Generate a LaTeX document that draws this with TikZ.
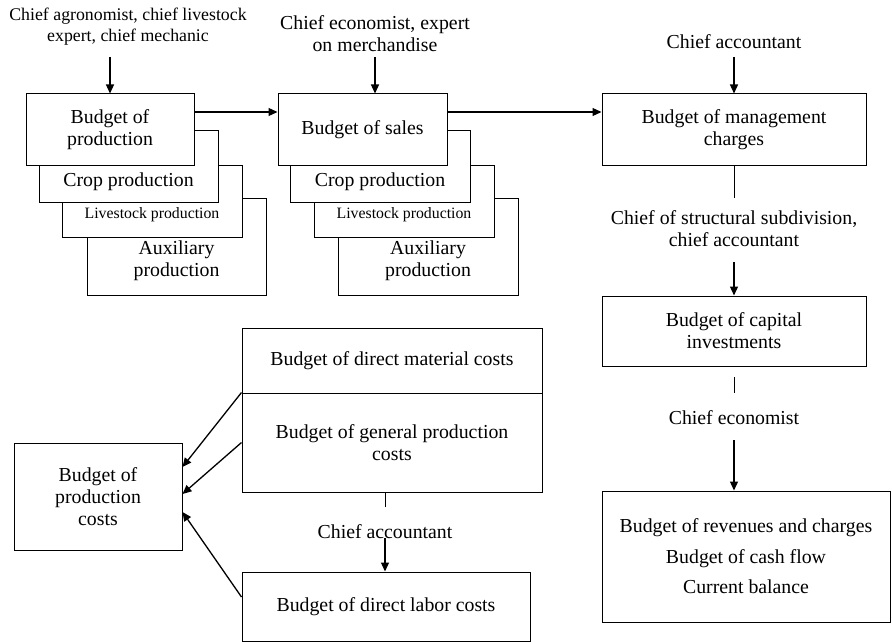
\documentclass[tikz,border=0pt]{standalone}
\usepackage{fontspec}
\setmainfont{Liberation Serif}
\usetikzlibrary{positioning}
\usetikzlibrary{arrows.meta}
\tikzstyle{bbox} = [draw=black, fill=white, line width=1pt, inner sep=0pt, align=center]
\tikzstyle{txt} = [align=center, inner sep=0pt]
\tikzstyle{arrow} = [line width=1.3pt,-{Triangle[length=9pt,width=8pt]}]
\tikzstyle{link} = [line width=1pt]
\def\small(#1){{\fontsize{15.8}{18}\selectfont #1}}

\begin{document}
\begin{tikzpicture}[x=1pt,y=-1pt,font=\fontsize{19.8}{22}\selectfont]
    \useasboundingbox (0,0) rectangle (892,642);
    % production stack
    \node[bbox,minimum width=179pt,minimum height=97pt] (aux1) at (176.5,246.5) {};
    \node[bbox,minimum width=180pt,minimum height=72pt] (live1) at (152,201) {};
    \node[bbox,minimum width=179pt,minimum height=72pt] (crop1) at (128.5,166) {};
    \node[bbox,minimum width=168pt,minimum height=71pt] (prod) at (110,129.5) {Budget of\\production};
    \node[txt] (aux1t) at (176.5,261) {Auxiliary\\production};
    \node[txt] (live1t) at (152,215) {\small(Livestock production)};
    \node[txt] (crop1t) at (128.5,182) {Crop production};
    % sales stack
    \node[bbox,minimum width=180pt,minimum height=97pt] (aux2) at (428,246.5) {};
    \node[bbox,minimum width=180pt,minimum height=72pt] (live2) at (404,201) {};
    \node[bbox,minimum width=180pt,minimum height=72pt] (crop2) at (380,166) {};
    \node[bbox,minimum width=169pt,minimum height=71pt] (sales) at (362.5,129.5) {Budget of sales};
    \node[txt] (aux2t) at (428,261) {Auxiliary\\production};
    \node[txt] (live2t) at (404,215) {\small(Livestock production)};
    \node[txt] (crop2t) at (380,182) {Crop production};
    % right column
    \node[bbox,minimum width=264pt,minimum height=71pt] (mgmt) at (734,129.5) {Budget of management\\charges};
    \node[bbox,minimum width=264pt,minimum height=70pt] (capital) at (734,331) {Budget of capital\\investments};
    \node[bbox,minimum width=288pt,minimum height=131pt,font=\fontsize{19.8}{30.5}\selectfont] (final) at (746,556.5) {Budget of revenues and charges\\Budget of cash flow\\Current balance};
    % costs
    \node[bbox,minimum width=168pt,minimum height=107pt] (costs) at (98,496.5) {Budget of\\production\\costs};
    \node[bbox,minimum width=300pt,minimum height=65pt] (material) at (392,360.5) {Budget of direct material costs};
    \node[bbox,minimum width=300pt,minimum height=99pt] (general) at (392,442.5) {Budget of general production\\costs};
    \node[bbox,minimum width=288pt,minimum height=69pt] (labor) at (386,606.5) {Budget of direct labor costs};
    % people
    \node[txt,font=\fontsize{17.8}{21}\selectfont] (agro) at (128,27) {Chief agronomist, chief livestock\\expert, chief mechanic};
    \node[txt] (econ) at (375,34) {Chief economist, expert\\on merchandise};
    \node[txt] (acc1) at (734,42) {Chief accountant};
    \node[txt] (chief) at (734,229) {Chief of structural subdivision,\\chief accountant};
    \node[txt] (econ2) at (734,418) {Chief economist};
    \node[txt] (acc2) at (385,532) {Chief accountant};
    % arrows
    \draw[arrow] (prod.north |- 0,57) -- (prod.north);
    \draw[arrow] (econ.south |- 0,57) -- (econ.south |- sales.north);
    \draw[arrow] (acc1.south |- 0,57) -- (mgmt.north);
    \draw[arrow] ([yshift=17.5pt]prod.east) -- ([yshift=17.5pt]sales.west);
    \draw[arrow] ([yshift=17.5pt]sales.east) -- ([yshift=17.5pt]mgmt.west);
    \draw[link] (mgmt.south) -- (mgmt.south |- 0,198);
    \draw[arrow] (chief.south |- 0,262) -- (capital.north);
    \draw[link] (capital.south |- 0,377) -- (capital.south |- 0,393);
    \draw[arrow] (econ2.south |- 0,440) -- (econ2.south |- final.north);
    \draw[link] (acc2.north |- general.south) -- (acc2.north |- 0,507);
    \draw[arrow] (acc2.north |- 0,538) -- (acc2.north |- labor.north);
    \draw[arrow] (general.north west) -- ([yshift=29.5pt]costs.east);
    \draw[arrow] (general.west) -- ([yshift=2.5pt]costs.east);
    \draw[arrow] ([yshift=9.5pt]labor.west) -- ([yshift=-15.5pt]costs.east);
\end{tikzpicture}
\end{document}
